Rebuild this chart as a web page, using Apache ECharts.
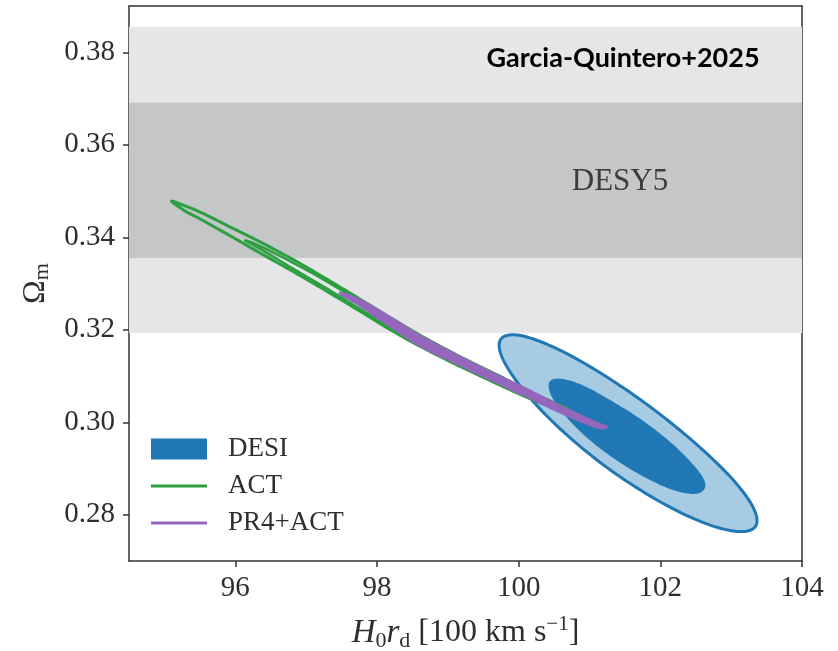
<!DOCTYPE html>
<html>
<head>
<meta charset="utf-8">
<script src="https://cdn.jsdelivr.net/npm/echarts@6/dist/echarts.min.js"></script>
<style>
html,body{margin:0;padding:0;background:#fff;}
#chart{width:838px;height:651px;}
</style>
</head>
<body>
<div id="chart"></div>
<script>
// ---- data ----
const xTicks = [96, 98, 100, 102, 104];
const yTicks = [0.28, 0.30, 0.32, 0.34, 0.36, 0.38];
const desy5Band2 = [0.3193, 0.3855];   // 2-sigma band (light)
const desy5Band1 = [0.3355, 0.3691];   // 1-sigma band (dark)

const desiOuter = [[103.34,0.2774],[103.08,0.2764],[102.59,0.2784],[101.94,0.2833],[101.23,0.2904],[100.57,0.2988],[100.06,0.3071],[99.77,0.3139],[99.75,0.3180],[100.01,0.3188],[100.50,0.3162],[101.15,0.3107],[101.86,0.3033],[102.52,0.2951],[103.03,0.2875],[103.32,0.2813]];
const desiInner = [[102.62,0.2855],[102.47,0.2845],[102.17,0.2854],[101.78,0.2881],[101.35,0.2921],[100.94,0.2970],[100.63,0.3019],[100.45,0.3061],[100.44,0.3088],[100.60,0.3094],[100.89,0.3081],[101.28,0.3049],[101.72,0.3007],[102.12,0.2960],[102.43,0.2914],[102.61,0.2878]];
const actOuter = [[95.10,0.3478],[95.29,0.3468],[95.51,0.3454],[95.93,0.3422],[96.35,0.3390],[96.85,0.3349],[97.24,0.3314],[97.72,0.3270],[98.19,0.3226],[98.61,0.3188],[99.17,0.3142],[99.74,0.3099],[100.16,0.3066],[100.59,0.3036],[100.69,0.3030],[100.59,0.3027],[100.16,0.3051],[99.74,0.3080],[99.17,0.3121],[98.61,0.3164],[98.19,0.3200],[97.72,0.3244],[97.24,0.3288],[96.85,0.3323],[96.35,0.3366],[95.93,0.3403],[95.51,0.3439],[95.29,0.3457]];
const actInner = [[96.14,0.3393],[96.35,0.3381],[96.85,0.3342],[97.24,0.3309],[97.72,0.3265],[98.19,0.3220],[98.61,0.3184],[99.17,0.3138],[99.74,0.3095],[100.16,0.3063],[100.47,0.3038],[100.16,0.3054],[99.74,0.3084],[99.17,0.3125],[98.61,0.3168],[98.19,0.3205],[97.72,0.3249],[97.24,0.3294],[96.85,0.3329],[96.35,0.3375]];
const pr4Act = [[97.48,0.3279],[97.76,0.3264],[98.19,0.3226],[98.61,0.3186],[99.08,0.3148],[99.56,0.3111],[100.02,0.3078],[100.49,0.3042],[100.97,0.3007],[101.15,0.2995],[101.24,0.2990],[101.15,0.2988],[100.97,0.2997],[100.49,0.3029],[100.02,0.3063],[99.56,0.3096],[99.08,0.3131],[98.61,0.3166],[98.19,0.3208],[97.76,0.3253]];

// ---- styling ----
const SERIF = '"Liberation Serif", "Times New Roman", serif';
const TXT = '#2e2e2e';
const AX = '#333333';
const C_DESI = '#1f77b4', C_DESI_L = '#a6cbe3', C_ACT = '#2ca040', C_PR4 = '#9467bd';

const chart = echarts.init(document.getElementById('chart'), null, {renderer: 'canvas'});

// closed Catmull-Rom smoothing of already-projected pixel points (rendering only)
function smoothClosed(p, steps) {
  const n = p.length, out = [];
  for (let i = 0; i < n; i++) {
    const p0 = p[(i - 1 + n) % n], p1 = p[i], p2 = p[(i + 1) % n], p3 = p[(i + 2) % n];
    for (let s = 0; s < steps; s++) {
      const t = s / steps, t2 = t * t, t3 = t2 * t;
      const f = function (k) {
        return 0.5 * (2 * p1[k] + (-p0[k] + p2[k]) * t + (2 * p0[k] - 5 * p1[k] + 4 * p2[k] - p3[k]) * t2 +
          (-p0[k] + 3 * p1[k] - 3 * p2[k] + p3[k]) * t3);
      };
      out.push([f(0), f(1)]);
    }
  }
  return out;
}

function bandSeries(name, band, color) {
  return {
    type: 'custom', name: name, silent: true, z: 1,
    data: [[104, band[0], band[1]]],
    encode: {x: 0, y: [1, 2]},
    renderItem: function (params, api) {
      const cs = params.coordSys;
      const yHi = api.coord([api.value(0), api.value(2)])[1];
      const yLo = api.coord([api.value(0), api.value(1)])[1];
      return {type: 'rect', shape: {x: cs.x, y: yHi, width: cs.width, height: yLo - yHi},
              style: {fill: color}};
    }
  };
}
function contourSeries(name, pts, fill, stroke, lw, z) {
  return {
    type: 'custom', name: name, silent: true, z: z,
    itemStyle: {color: stroke || fill},
    data: [pts[0]],
    renderItem: function (params, api) {
      const p = smoothClosed(pts.map(function (d) { return api.coord(d); }), 10);
      return {type: 'polygon', shape: {points: p},
              style: {fill: fill || 'none', stroke: stroke || null, lineWidth: lw, lineJoin: 'round'}};
    }
  };
}

const legendBase = {
  orient: 'horizontal', left: 151, padding: 0, itemWidth: 56, selectedMode: false,
  textStyle: {fontFamily: SERIF, fontSize: 27, color: TXT, lineHeight: 30, padding: [0, 0, 0, 16]}
};

const option = {
  animation: false,
  backgroundColor: '#ffffff',
  grid: {left: 129, right: 36, top: 6, bottom: 90, containLabel: false, outerBoundsMode: 'none'},
  xAxis: [{
    type: 'value', min: 94.5, max: 104, position: 'bottom',
    name: '{it|H}{sub|0}{it|r}{sub|d}{rm| [100 km s}{sup|\u22121}{rm|]}',
    nameLocation: 'middle', nameGap: 53,
    nameTextStyle: {
      color: TXT, fontFamily: SERIF, fontSize: 32,
      rich: {
        it: {fontFamily: SERIF, fontStyle: 'italic', fontSize: 33, color: TXT, lineHeight: 38},
        rm: {fontFamily: SERIF, fontSize: 32, color: TXT, lineHeight: 38},
        sub: {fontFamily: SERIF, fontSize: 22, color: TXT, lineHeight: 22, verticalAlign: 'bottom'},
        sup: {fontFamily: SERIF, fontSize: 21, color: TXT, lineHeight: 21, verticalAlign: 'top'}
      }
    },
    axisLine: {show: true, onZero: false, lineStyle: {color: AX, width: 1.5}},
    axisTick: {show: true, inside: false, length: 6, lineStyle: {color: AX, width: 1.5}, customValues: xTicks},
    axisLabel: {show: true, margin: 13, color: TXT, fontFamily: SERIF, fontSize: 29, customValues: xTicks,
                formatter: function (v) { return String(v); }},
    splitLine: {show: false}
  }, {
    type: 'value', min: 94.5, max: 104, position: 'top',
    axisLine: {show: true, onZero: false, lineStyle: {color: AX, width: 1.5}},
    axisTick: {show: false}, axisLabel: {show: false}, splitLine: {show: false}
  }],
  yAxis: [{
    type: 'value', min: 0.27, max: 0.39, position: 'left',
    name: '{om|\u03A9}{sub|m}',
    nameLocation: 'middle', nameGap: 70, nameRotate: 90,
    nameTextStyle: {
      color: TXT, fontFamily: SERIF, fontSize: 31,
      rich: {
        om: {fontFamily: SERIF, fontSize: 32, color: TXT, lineHeight: 36},
        sub: {fontFamily: SERIF, fontSize: 22, color: TXT, lineHeight: 22, verticalAlign: 'bottom'}
      }
    },
    axisLine: {show: true, onZero: false, lineStyle: {color: AX, width: 1.5}},
    axisTick: {show: true, inside: false, length: 6, lineStyle: {color: AX, width: 1.5}, customValues: yTicks},
    axisLabel: {show: true, margin: 14, color: TXT, fontFamily: SERIF, fontSize: 29, customValues: yTicks,
                formatter: function (v) { return v.toFixed(2); }},
    splitLine: {show: false}
  }, {
    type: 'value', min: 0.27, max: 0.39, position: 'right',
    axisLine: {show: true, onZero: false, lineStyle: {color: AX, width: 1.5}},
    axisTick: {show: false}, axisLabel: {show: false}, splitLine: {show: false}
  }],
  legend: [
    Object.assign({}, legendBase, {top: 434, itemHeight: 21, data: [{name: 'DESI', icon: 'rect'}]}),
    Object.assign({}, legendBase, {top: 471, itemHeight: 3, data: [{name: 'ACT', icon: 'rect'}]}),
    Object.assign({}, legendBase, {top: 508, itemHeight: 3, data: [{name: 'PR4+ACT', icon: 'rect'}]})
  ],
  graphic: [
    {type: 'text', z: 100, style: {text: 'Garcia-Quintero+2025', x: 623, y: 58, align: 'center', verticalAlign: 'middle',
      font: 'bold 27px Lato, "Open Sans", sans-serif', fill: '#000000'}},
    {type: 'text', z: 100, style: {text: 'DESY5', x: 620, y: 182, align: 'center', verticalAlign: 'middle',
      font: '31px "Liberation Serif", serif', fill: '#3c3c3c'}}
  ],
  series: [
    bandSeries('DESY5 2sig', desy5Band2, '#e6e6e9'),
    bandSeries('DESY5 1sig', desy5Band1, '#c5c6c8'),
    contourSeries('DESI', desiOuter, C_DESI_L, C_DESI, 3, 3),
    contourSeries('DESI inner', desiInner, C_DESI, null, 0, 4),
    contourSeries('ACT', actOuter, null, C_ACT, 3, 5),
    contourSeries('ACT inner', actInner, null, C_ACT, 2.5, 5),
    contourSeries('PR4+ACT', pr4Act, C_PR4, C_PR4, 3, 6)
  ]
};
option.series[3].itemStyle = {color: C_DESI};
option.series[2].itemStyle = {color: C_DESI};
chart.setOption(option);
</script>
</body>
</html>
